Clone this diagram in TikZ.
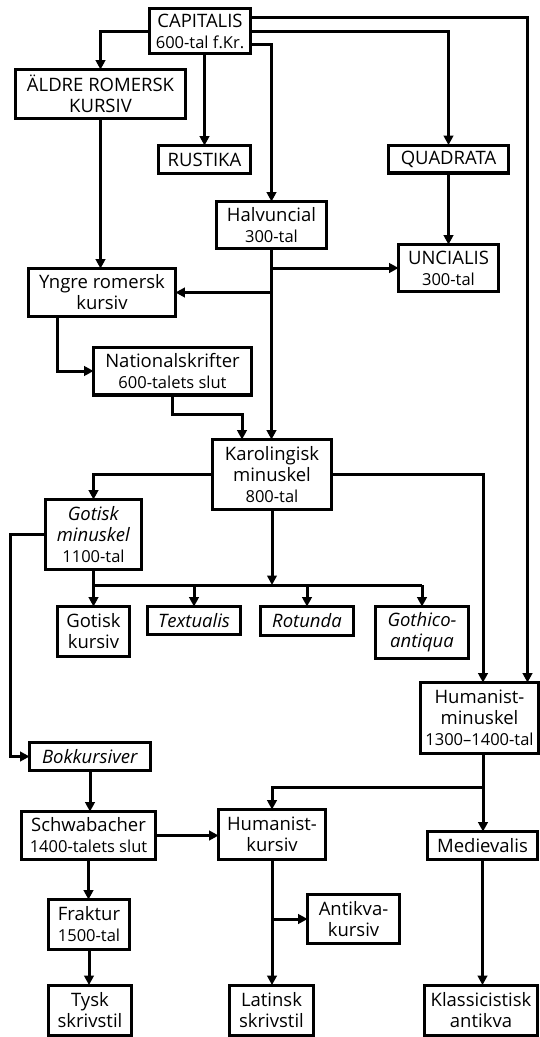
\documentclass[tikz,border=0pt]{standalone}
\usepackage{fontspec}
\setmainfont{Open Sans}
\usetikzlibrary{arrows.meta}
\newcommand{\subl}[1]{{\fontsize{16.5}{21}\selectfont #1}}
\begin{document}
\begin{tikzpicture}[x=1pt,y=-1pt,
  box/.style={draw, line width=3.2pt, inner sep=0pt, outer sep=0pt, align=center,
    font=\fontsize{18.5}{21}\selectfont},
  wh/.style 2 args={minimum width=#1, minimum height=#2},
  arr/.style={line width=3pt, -{Triangle[length=9.5pt,width=9.5pt]}},
  ln/.style={line width=3pt}]
\useasboundingbox (0,0) rectangle (540,1037);
\begin{scope}
\clip (0,0) rectangle (540,1037);
% nodes
\node[box,wh={100.8}{44.8}] (cap) at (200,31) {CAPITALIS\\\subl{600-tal f.Kr.}};
\node[box,wh={169.8}{48.8}] (ald) at (100.5,94) {ÄLDRE ROMERSK\\KURSIV};
\node[box,wh={91.8}{27.8}] (rus) at (204.5,159.5) {RUSTIKA};
\node[box,wh={119.8}{27.8}] (qua) at (448.5,159) {QUADRATA};
\node[box,wh={109.8}{46.8}] (hal) at (271.5,225) {Halvuncial\\\subl{300-tal}};
\node[box,wh={99.8}{46.8}] (unc) at (448.5,268) {UNCIALIS\\\subl{300-tal}};
\node[box,wh={146.8}{47.8}] (yng) at (102,292.5) {Yngre romersk\\kursiv};
\node[box,wh={157.8}{47.8}] (nat) at (172.5,371) {Nationalskrifter\\\subl{600-talets slut}};
\node[box,wh={118.8}{69.8}] (kar) at (272,474.5) {Karolingisk\\minuskel\\\subl{800-tal}};
\node[box,wh={95.8}{69.8}] (gom) at (93.5,534.5) {\textit{Gotisk}\\\textit{minuskel}\\\subl{1100-tal}};
\node[box,wh={71.8}{49.8}] (gok) at (93.5,631.5) {Gotisk\\kursiv};
\node[box,wh={92.8}{27.8}] (tex) at (194,620.5) {\textit{Textualis}};
\node[box,wh={92.8}{28.8}] (rot) at (307,621) {\textit{Rotunda}};
\node[box,wh={92.8}{51.8}] (goa) at (422,632.5) {\textit{Gothico-}\\\textit{antiqua}};
\node[box,wh={117.8}{70.8}] (hum) at (479.5,718) {Humanist-\\minuskel\\\subl{1300–1400-tal}};
\node[box,wh={120.8}{27.8}] (bok) at (90,756.5) {\textit{Bokkursiver}};
\node[box,wh={133.8}{47.8}] (sch) at (88.5,835.5) {Schwabacher\\\subl{1400-talets slut}};
\node[box,wh={106.8}{49.8}] (hku) at (272,834.5) {Humanist-\\kursiv};
\node[box,wh={109.8}{27.8}] (med) at (482.5,845.5) {Medievalis};
\node[box,wh={80.8}{49.8}] (fra) at (89,924.5) {Fraktur\\\subl{1500-tal}};
\node[box,wh={91.8}{48.8}] (ant) at (353.5,919) {Antikva-\\kursiv};
\node[box,wh={82.8}{50.8}] (tys) at (90,1010.5) {Tysk\\skrivstil};
\node[box,wh={83.8}{50.8}] (lat) at (271.5,1010.5) {Latinsk\\skrivstil};
\node[box,wh={112.8}{50.8}] (kla) at (481,1010.5) {Klassicistisk\\antikva};
% connectors
\draw[arr] (cap.west) -| (ald.north);
\draw[arr] (cap.south -| rus.north) -- (rus.north);
\draw[arr] ([yshift=14pt]cap.east) -| ([xshift=48pt]hum.north);
\draw[arr] (cap.east) -| (qua.north);
\draw[arr] ([yshift=-13pt]cap.east) -| (hal.north);
\draw[arr] (ald.south) -- (ald.south |- yng.north);
\draw[arr] (qua.south) -- (unc.north);
\draw[arr] (hal.south) -- (hal.south |- kar.north);
\draw[arr] (hal.south |- unc.west) -- (unc.west);
\draw[arr] (hal.south |- yng.east) -- (yng.east);
\draw[arr] ([xshift=-45pt]yng.south) |- (nat.west);
\draw[arr] (nat.south) -- ++(0,20) -| ([xshift=-30pt]kar.north);
\draw[arr] (kar.west) -| (gom.north);
\draw[arr] (kar.east) -| ([xshift=3.5pt]hum.north);
\coordinate (barL) at (93.5,585);
\coordinate (barR) at (422,585);
\draw[ln] (barL) -- (barR);
\draw[arr] (kar.south) -- (kar.south |- barL);
\draw[arr] (gom.south) -- (gok.north);
\draw[arr] (tex.north |- barL) -- (tex.north);
\draw[arr] (rot.north |- barL) -- (rot.north);
\draw[arr] (goa.north |- barL) -- (goa.north);
\draw[arr] (gom.west) -- ++(-35,0) |- (bok.west);
\draw[arr] (bok.south) -- (bok.south |- sch.north);
\draw[arr] (sch.east) -- (sch.east -| hku.west);
\coordinate (hb) at (483,787);
\draw[arr] (hb |- hum.south) -- (hb |- med.north);
\draw[arr] (hb) -| (hku.north);
\draw[arr] (sch.south) -- (sch.south |- fra.north);
\draw[arr] (fra.south) -- (fra.south |- tys.north);
\draw[arr] (hku.south) -- (hku.south |- lat.north);
\draw[arr] (hku.south |- ant.west) -- (ant.west);
\draw[arr] (med.south) -- (med.south |- kla.north);
\end{scope}
\end{tikzpicture}
\end{document}
